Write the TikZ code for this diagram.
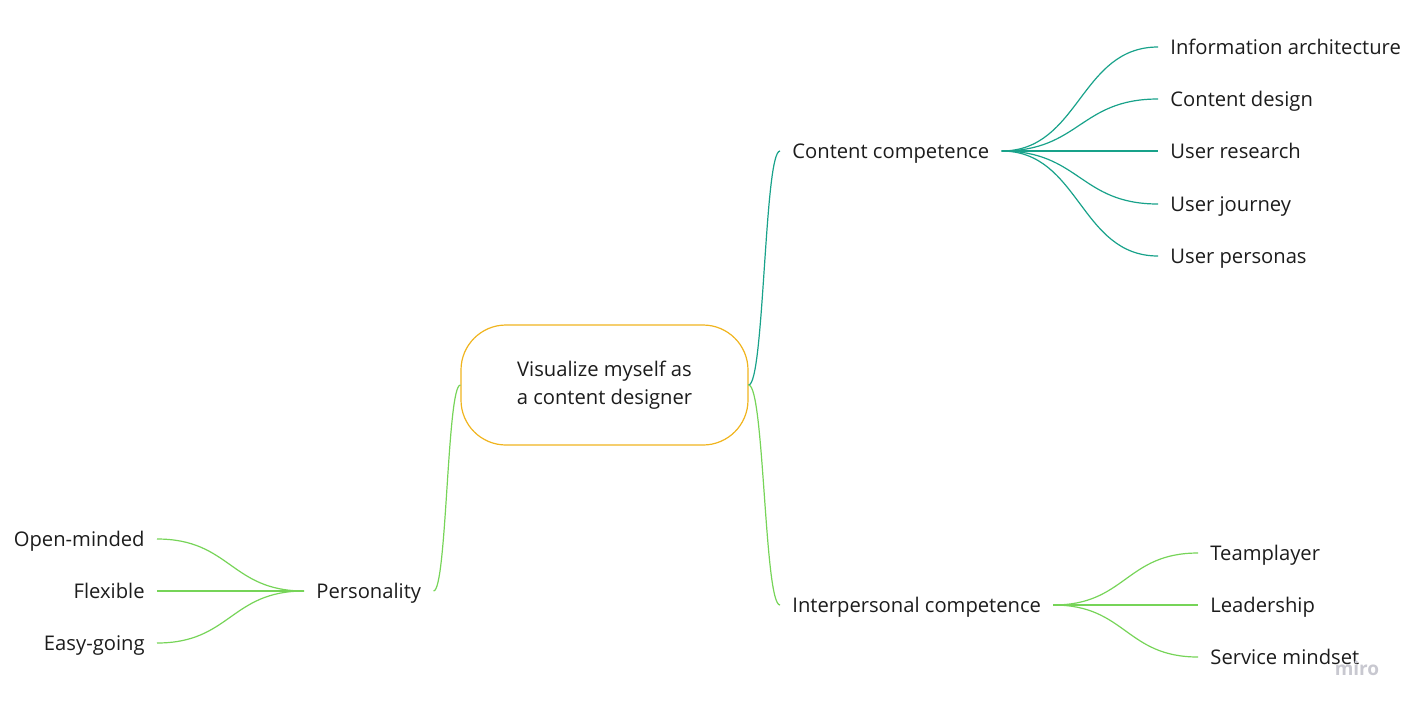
\documentclass[tikz,border=0pt]{standalone}
\usepackage{fontspec}
\setmainfont{Open Sans}
\usetikzlibrary{calc}
\definecolor{rootline}{RGB}{240,180,30}
\definecolor{tealline}{RGB}{24,162,138}
\definecolor{greenline}{RGB}{118,212,88}
\definecolor{inktext}{RGB}{28,28,28}
\definecolor{mirogray}{RGB}{200,200,208}

\begin{document}
\begin{tikzpicture}[x=0.5pt, y=-0.5pt,
    every node/.style={font=\fontsize{10.1}{14}\selectfont, text=inktext},
    topic/.style={inner xsep=6pt, inner ysep=0pt, text height=0.714em, text depth=0pt},
    rootbox/.style={draw=rootline, line width=0.6pt, rounded corners=22.5pt,
        minimum width=143.5pt, minimum height=60pt, align=center},
    branch/.style={line width=0.6pt, to path={let \p1=(\tikztostart), \p2=(\tikztotarget) in
        .. controls ({(\x1+\x2)/2},\y1) and ({(\x1+\x2)/2},\y2) .. (\tikztotarget)}}]
    \useasboundingbox (0,0) rectangle (1412,708);

    \node[rootbox] (root) at (604.5,385) {Visualize myself as\\a content designer};

    % right side, top
    \node[topic, anchor=west] (content) at (780,151) {Content competence};
    \node[topic, anchor=west] (infoarch) at (1158,47) {Information architecture};
    \node[topic, anchor=west] (design) at (1158,99) {Content design};
    \node[topic, anchor=west] (research) at (1158,151) {User research};
    \node[topic, anchor=west] (journey) at (1158,204) {User journey};
    \node[topic, anchor=west] (personas) at (1158,256) {User personas};

    % right side, bottom
    \node[topic, anchor=west] (interpers) at (780,605) {Interpersonal competence};
    \node[topic, anchor=west] (team) at (1198,553) {Teamplayer};
    \node[topic, anchor=west] (lead) at (1198,605) {Leadership};
    \node[topic, anchor=west] (service) at (1198,657) {Service mindset};

    % left side
    \node[topic, anchor=west] (person) at (304,591) {Personality};
    \node[topic, anchor=east] (open) at (157,539) {Open-minded};
    \node[topic, anchor=east] (flex) at (157,591) {Flexible};
    \node[topic, anchor=east] (easy) at (157,643) {Easy-going};

    \draw[branch, tealline] (root.east) to (content.west);
    \foreach \leaf in {infoarch,design,research,journey,personas}
        \draw[branch, tealline] (content.east) to (\leaf.west);

    \draw[branch, greenline] (root.east) to (interpers.west);
    \foreach \leaf in {team,lead,service}
        \draw[branch, greenline] (interpers.east) to (\leaf.west);

    \draw[branch, greenline] (root.west) to (person.east);
    \foreach \leaf in {open,flex,easy}
        \draw[branch, greenline] (person.west) to (\leaf.east);

    \node[text=mirogray, font=\bfseries\fontsize{9.5}{10}\selectfont] (wmark) at (1357,668) {miro};
\end{tikzpicture}
\end{document}
